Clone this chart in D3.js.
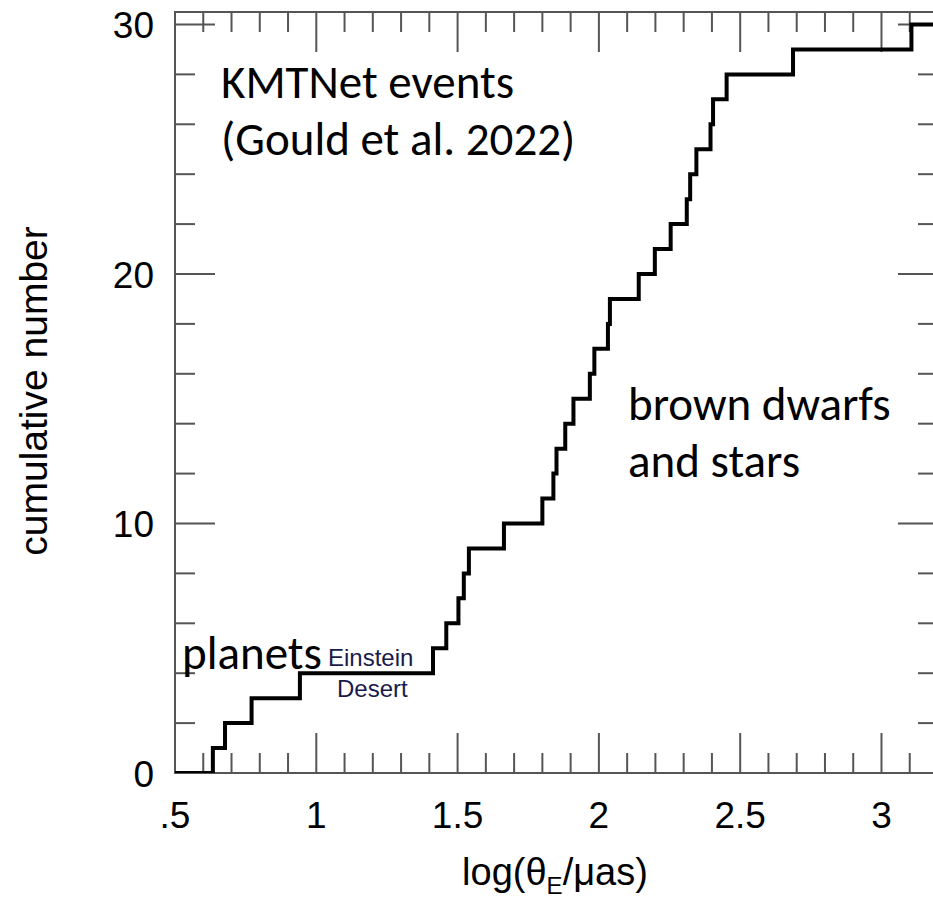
<!DOCTYPE html>
<html>
<head>
<meta charset="utf-8">
<script src="https://cdn.jsdelivr.net/npm/d3@7"></script>
<style>
  body { margin: 0; background: #fff; }
  .tick-label { font-family: "Liberation Sans", Arial, sans-serif; font-size: 37px; fill: #000; }
  .note { font-family: Carlito, Lato, "Open Sans", sans-serif; font-size: 47px; fill: #000; }
</style>
</head>
<body>
<div id="chart"></div>
<script>
// log(thetaE / uas) for each KMTNet event, in increasing order
const logThetaE = [0.634, 0.677, 0.771, 0.942, 1.413, 1.460, 1.503, 1.522, 1.540, 1.664,
                   1.800, 1.839, 1.850, 1.881, 1.910, 1.968, 1.984, 2.032, 2.039, 2.141,
                   2.198, 2.254, 2.311, 2.323, 2.345, 2.395, 2.404, 2.452, 2.687, 3.106];

const xMajor = [0.5, 1, 1.5, 2, 2.5, 3];
const xTickLabels = [".5", "1", "1.5", "2", "2.5", "3"];
const yMajor = [0, 10, 20, 30];
const yTickLabels = ["0", "10", "20", "30"];

const margin = { top: 12, left: 175 },
      width = 763,
      height = 761;

const svg = d3.select("#chart")
    .append("svg")
    .attr("width", 933)
    .attr("height", 902)
  .append("g")
    .attr("transform", `translate(${margin.left},${margin.top})`);

const x = d3.scaleLinear().domain([0.5, 3.2]).range([0, width]);
const y = d3.scaleLinear().domain([0, 30.5]).range([height, 0]);

// minor ticks every 0.1 in x and every 2 in y
const xMinor = d3.range(6, 32).map(d => d / 10).filter(d => !xMajor.some(m => Math.abs(m - d) < 1e-6));
const yMinor = d3.range(0, 31, 2).filter(d => !yMajor.includes(d));

const tickColor = "#555";

// frame
svg.append("rect")
    .attr("x", 0).attr("y", 0)
    .attr("width", width).attr("height", height)
    .attr("fill", "none")
    .attr("stroke", tickColor)
    .attr("stroke-width", 2);

function xTicks(vals, len) {
    // bottom
    svg.append("g").selectAll("line").data(vals).enter().append("line")
        .attr("x1", d => x(d)).attr("x2", d => x(d))
        .attr("y1", height).attr("y2", height - len)
        .attr("stroke", tickColor).attr("stroke-width", 2);
    // top
    svg.append("g").selectAll("line").data(vals).enter().append("line")
        .attr("x1", d => x(d)).attr("x2", d => x(d))
        .attr("y1", 0).attr("y2", len)
        .attr("stroke", tickColor).attr("stroke-width", 2);
}
function yTicks(vals, len) {
    svg.append("g").selectAll("line").data(vals).enter().append("line")
        .attr("x1", 0).attr("x2", len)
        .attr("y1", d => y(d)).attr("y2", d => y(d))
        .attr("stroke", tickColor).attr("stroke-width", 2);
    svg.append("g").selectAll("line").data(vals).enter().append("line")
        .attr("x1", width).attr("x2", width - len)
        .attr("y1", d => y(d)).attr("y2", d => y(d))
        .attr("stroke", tickColor).attr("stroke-width", 2);
}
xTicks(xMinor, 20);
xTicks(xMajor, 40);
yTicks(yMinor, 20);
yTicks(yMajor, 40);

// tick labels
svg.append("g").selectAll("text").data(xMajor).enter().append("text")
    .attr("class", "tick-label")
    .attr("text-anchor", "middle")
    .attr("x", d => x(d))
    .attr("y", height + 55)
    .text((d, i) => xTickLabels[i]);

svg.append("g").selectAll("text").data(yMajor).enter().append("text")
    .attr("class", "tick-label")
    .attr("text-anchor", "end")
    .attr("x", -21)
    .attr("y", d => y(d) + 14)
    .text((d, i) => yTickLabels[i]);

// axis titles
svg.append("text")
    .attr("class", "tick-label")
    .attr("text-anchor", "middle")
    .attr("transform", `translate(${-128},${391 - margin.top}) rotate(-90)`)
    .style("font-size", "39px")
    .text("cumulative number");

const xt = svg.append("text")
    .attr("class", "tick-label")
    .attr("text-anchor", "middle")
    .attr("x", 555 - margin.left)
    .attr("y", 885 - margin.top)
    .style("font-size", "38px");
xt.append("tspan").text("log(θ");
xt.append("tspan").attr("dy", 9).style("font-size", "24px").text("E");
xt.append("tspan").attr("dy", -9).text("/μas)");

// cumulative step curve
const steps = [[0.5, 0]].concat(logThetaE.map((d, i) => [d, i + 1])).concat([[3.2, logThetaE.length]]);

svg.append("clipPath").attr("id", "clip")
  .append("rect").attr("width", width).attr("height", height + 3).attr("y", -3);

svg.append("path")
    .datum(steps)
    .attr("clip-path", "url(#clip)")
    .attr("fill", "none")
    .attr("stroke", "#000")
    .attr("stroke-width", 4)
    .attr("d", d3.line()
        .x(d => x(d[0]))
        .y(d => y(d[1]))
        .curve(d3.curveStepAfter));

// annotations
const notes = [
    { text: "KMTNet events", px: 221, py: 98 },
    { text: "(Gould et al. 2022)", px: 221, py: 155 },
    { text: "brown dwarfs", px: 628, py: 420 },
    { text: "and stars", px: 628, py: 477 },
    { text: "planets", px: 182, py: 669 }
];
svg.append("g").selectAll("text").data(notes).enter().append("text")
    .attr("class", "note")
    .attr("x", d => d.px - margin.left)
    .attr("y", d => d.py - margin.top)
    .text(d => d.text);

const desert = [
    { text: "Einstein", px: 328, py: 666 },
    { text: "Desert", px: 337, py: 697 }
];
svg.append("g").selectAll("text").data(desert).enter().append("text")
    .attr("x", d => d.px - margin.left)
    .attr("y", d => d.py - margin.top)
    .style("font-family", "'Liberation Sans', Arial, sans-serif")
    .style("font-size", "24px")
    .style("fill", "#1a1a4a")
    .text(d => d.text);
</script>
</body>
</html>
